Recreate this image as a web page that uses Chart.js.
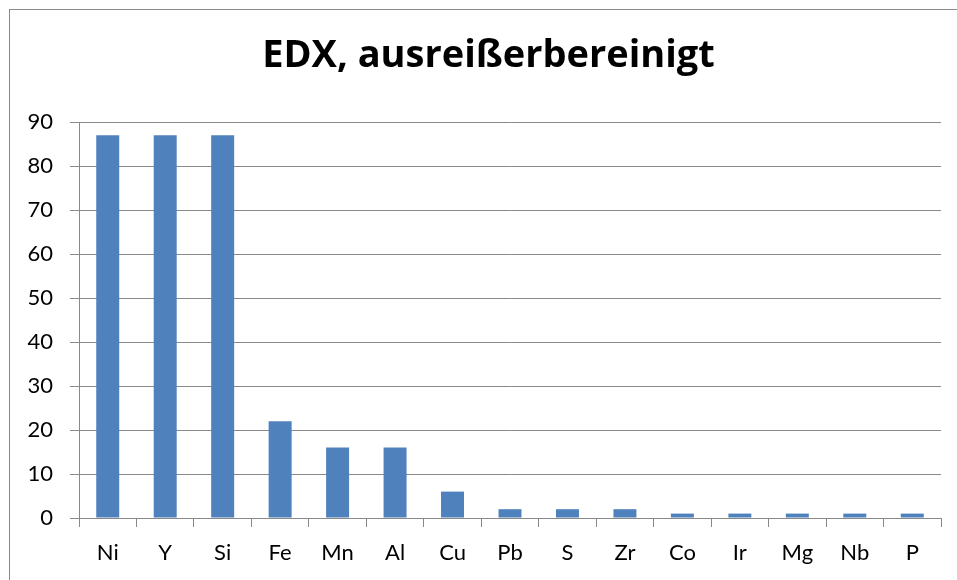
<!DOCTYPE html>
<html>
<head>
<meta charset="utf-8">
<script src="https://cdn.jsdelivr.net/npm/chart.js@4.4.1/dist/chart.umd.min.js"></script>
<style>
  html, body { margin: 0; padding: 0; background: #fff; }
  #wrap { width: 957px; height: 580px; }
</style>
</head>
<body>
<div id="wrap"><canvas id="chart" width="957" height="580"></canvas></div>
<script>
const elements = ['Ni', 'Y', 'Si', 'Fe', 'Mn', 'Al', 'Cu', 'Pb', 'S', 'Zr', 'Co', 'Ir', 'Mg', 'Nb', 'P'];
const counts = [87, 87, 87, 22, 16, 16, 6, 2, 2, 2, 1, 1, 1, 1, 1];
const yMax = 90;
const yStep = 10;
const chartTitle = 'EDX, ausreißerbereinigt';

const axisGrey = '#898989';
const fontFamily = 'Lato, "Open Sans", sans-serif';

// white page, the thin frame round the chart, and the title
const frame = {
  id: 'frame',
  beforeDraw(chart) {
    const ctx = chart.ctx;
    ctx.save();
    ctx.fillStyle = '#fff';
    ctx.fillRect(0, 0, chart.width, chart.height);
    ctx.strokeStyle = '#8a8a8a';
    ctx.lineWidth = 1;
    ctx.strokeRect(9.5, 9.5, chart.width + 20, chart.height + 20);
    ctx.fillStyle = '#000';
    ctx.font = 'bold 38px "Open Sans", Lato, sans-serif';
    ctx.textAlign = 'center';
    ctx.textBaseline = 'alphabetic';
    ctx.fillText(chartTitle, 488.5, 67);
    ctx.restore();
  }
};

new Chart(document.getElementById('chart'), {
  type: 'bar',
  data: {
    labels: elements,
    datasets: [{
      data: counts,
      backgroundColor: '#4F81BD',
      borderWidth: 0,
      barPercentage: 0.4,
      categoryPercentage: 1
    }]
  },
  options: {
    responsive: false,
    animation: false,
    layout: { padding: { left: 0, right: 16, top: 122, bottom: 0 } },
    plugins: {
      legend: { display: false },
      tooltip: { enabled: false },
      title: { display: false }
    },
    scales: {
      x: {
        grid: {
          offset: true,
          drawOnChartArea: false,
          tickLength: 9,
          color: axisGrey
        },
        border: { color: axisGrey },
        ticks: {
          color: '#000',
          padding: 13,
          font: { family: fontFamily, size: 22 }
        },
        afterFit(scale) { scale.height = 62; }
      },
      y: {
        min: 0,
        max: yMax,
        grid: { color: axisGrey, tickLength: 9 },
        border: { color: axisGrey },
        ticks: {
          stepSize: yStep,
          color: '#000',
          padding: 17,
          font: { family: fontFamily, size: 22 }
        },
        afterFit(scale) { scale.width = 79; }
      }
    }
  },
  plugins: [frame]
});
</script>
</body>
</html>
